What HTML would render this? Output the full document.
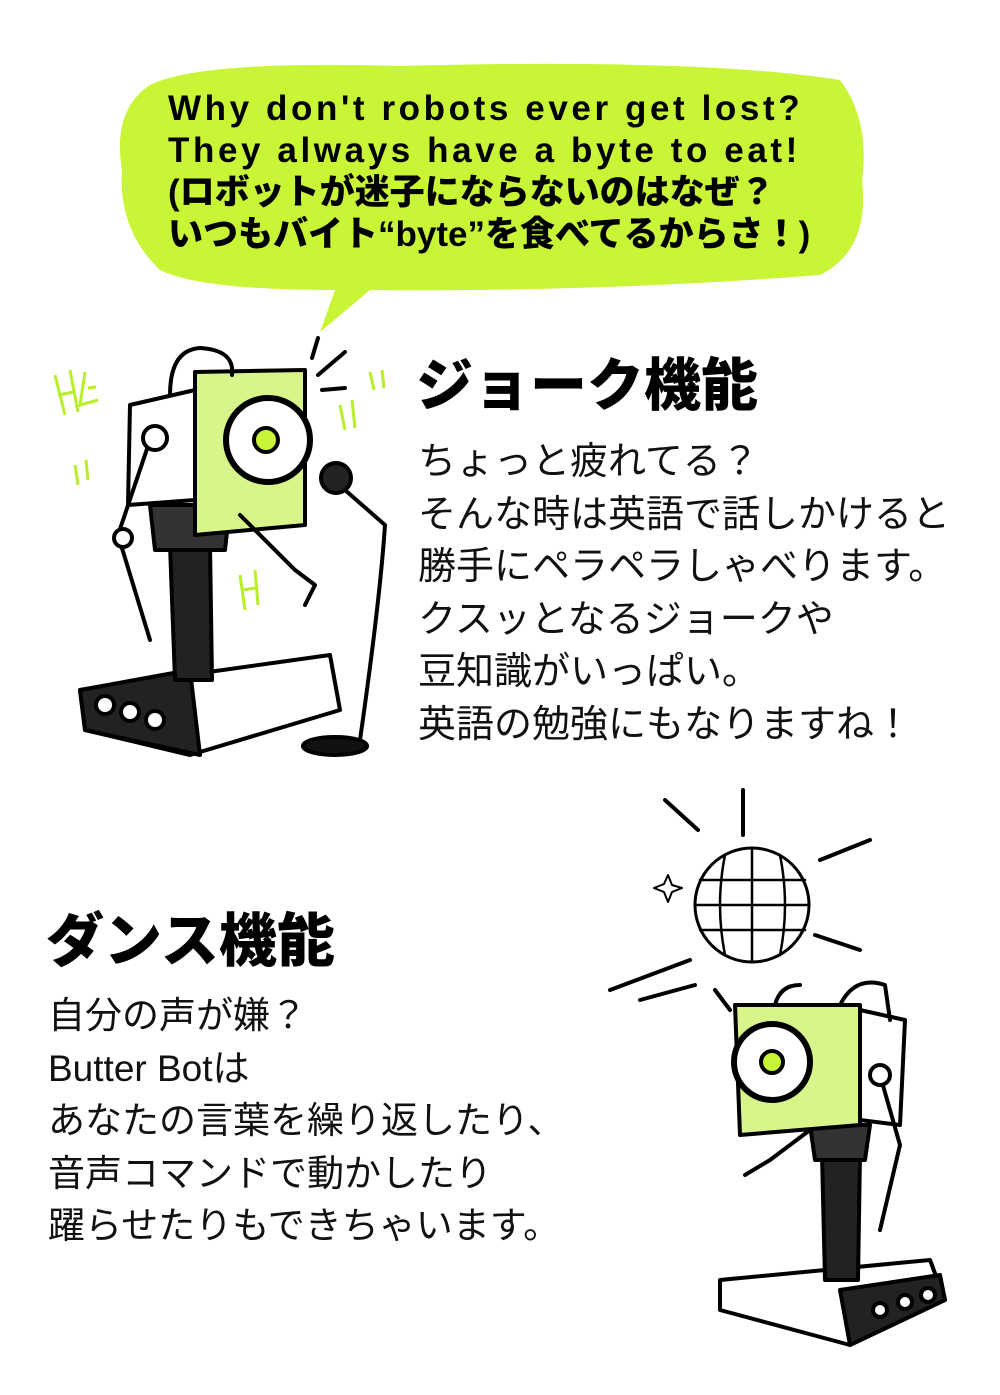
<!DOCTYPE html>
<html><head><meta charset="utf-8"><style>
html,body{margin:0;padding:0;background:#fff;}
body{width:1000px;height:1395px;position:relative;overflow:hidden;font-family:"Liberation Sans","Noto Sans CJK JP",sans-serif;}
.a{position:absolute;white-space:nowrap;}
.bub{left:168px;top:88px;font-size:35px;font-weight:900;line-height:42px;color:#000;}
.en{letter-spacing:3.6px;}
.h{font-size:57px;font-weight:900;color:#000;}
.b{line-height:52.5px;color:#111;}
svg{position:absolute;left:0;top:0;}
</style></head><body>
<svg width="1000" height="1395" viewBox="0 0 1000 1395">
<path d="M150 85 Q200 60 400 66 Q700 58 840 80 Q870 120 862 180 Q870 250 820 275 Q600 292 370 290 L320 332 L335 290 Q200 290 160 270 Q118 230 122 170 Q112 110 150 85Z" fill="#c8f536"/>
<g stroke="#000" stroke-width="4" fill="none" stroke-linecap="round" stroke-linejoin="round">
<path d="M80 690 L330 655 L340 710 L190 755 L85 730Z" fill="#fff"/>
<path d="M80 690 L190 670 L200 755 L85 730Z" fill="#222"/>
<circle cx="105" cy="705" r="9" fill="#fff"/><circle cx="130" cy="712" r="9" fill="#fff"/><circle cx="155" cy="720" r="9" fill="#fff"/>
<path d="M170 545 L210 545 L212 680 L175 680Z" fill="#222"/>
<path d="M150 505 L230 505 L225 550 L155 550Z" fill="#333"/>
<path d="M130 405 L195 390 L195 500 L128 505Z" fill="#fff"/>
<path d="M195 372 L305 370 L305 525 L195 535Z" fill="#d7f58a"/>
<path d="M170 395 Q170 350 200 348 Q235 350 232 375"/>
<circle cx="268" cy="440" r="42" fill="#fff" stroke-width="6"/>
<circle cx="266" cy="440" r="12" fill="#c8f536"/>
<path d="M150 440 L118 535 L150 640"/>
<circle cx="155" cy="438" r="12" fill="#fff"/>
<circle cx="123" cy="538" r="9" fill="#fff"/>
<path d="M240 515 L295 570 L315 585 L305 605"/>
<circle cx="336" cy="478" r="15" fill="#222"/>
<path d="M345 490 L385 525 Q380 600 360 740"/>
<ellipse cx="335" cy="746" rx="32" ry="9" fill="#111"/>
<path d="M312 358 L318 338 M318 375 L345 352 M322 390 L345 388"/>
<path d="M720 1280 L930 1260 L945 1300 L850 1345 L720 1310Z" fill="#fff"/>
<path d="M840 1290 L940 1275 L945 1300 L850 1345Z" fill="#222"/>
<circle cx="880" cy="1310" r="7" fill="#fff"/><circle cx="905" cy="1302" r="7" fill="#fff"/><circle cx="928" cy="1295" r="7" fill="#fff"/>
<path d="M822 1155 L860 1155 L858 1280 L825 1280Z" fill="#222"/>
<path d="M810 1125 L870 1125 L865 1160 L815 1160Z" fill="#333"/>
<path d="M860 1010 L905 1020 L900 1125 L860 1120Z" fill="#fff"/>
<path d="M735 1005 L860 1005 L860 1125 L740 1135Z" fill="#d7f58a"/>
<path d="M775 1005 Q780 985 800 985 M840 1005 Q855 975 885 985 L890 1020"/>
<circle cx="772" cy="1062" r="38" fill="#fff" stroke-width="6"/>
<circle cx="772" cy="1062" r="11" fill="#c8f536"/>
<path d="M880 1075 L900 1145 L880 1230"/>
<circle cx="880" cy="1075" r="10" fill="#fff"/>
<path d="M810 1130 L770 1160 L745 1175"/>
<circle cx="752" cy="905" r="57" fill="#fff" stroke-width="3"/>
<path d="M700 880 L805 880 M697 905 L809 905 M700 930 L805 930 M752 848 L752 962 M725 855 Q715 905 725 955 M780 855 Q790 905 780 955" stroke-width="2.5"/>
<path d="M743 790 L743 835 M665 800 L698 830 M610 990 L690 960 M640 1000 L695 985 M820 860 L870 840 M815 935 L860 950 M715 990 L730 1010"/>
<path d="M668 875 L672 885 L682 888 L672 892 L668 902 L664 892 L654 888 L664 884Z" stroke-width="2"/>
</g>
<g fill="none" stroke="#b8ee2a" stroke-width="3">
<path d="M55 375 L65 415 M70 370 L78 412 M58 395 L74 392 M85 372 L80 405 L98 400 M88 388 L96 387"/>
<path d="M240 575 L245 610 M255 570 L258 605 M242 590 L256 588"/>
<path d="M340 405 L345 430 M352 400 L355 428 M370 372 L374 390 M382 370 L384 388"/>
<path d="M75 465 L78 485 M86 460 L88 480"/>
</g>
</svg>
<div class="a bub"><span class="en">Why don't robots ever get lost?</span><br><span class="en">They always have a byte to eat!</span><br>(ロボットが迷子にならないのはなぜ？<br>いつもバイト“byte”を食べてるからさ！)</div>
<div class="a h" style="left:416px;top:340px;">ジョーク機能</div>
<div class="a b" style="left:418px;top:436px;font-size:38px;">ちょっと疲れてる？<br>そんな時は英語で話しかけると<br>勝手にペラペラしゃべります。<br>クスッとなるジョークや<br>豆知識がいっぱい。<br>英語の勉強にもなりますね！</div>
<div class="a h" style="left:46px;top:894px;font-size:58px;">ダンス機能</div>
<div class="a b" style="left:48px;top:990px;font-size:37px;">自分の声が嫌？<br>Butter Botは<br>あなたの言葉を繰り返したり、<br>音声コマンドで動かしたり<br>躍らせたりもできちゃいます。</div>
</body></html>
